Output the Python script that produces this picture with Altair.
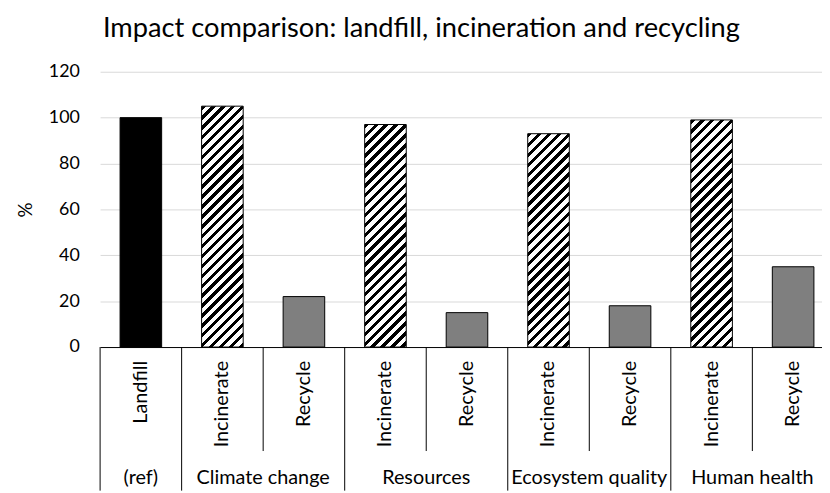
import altair as alt
import pandas as pd

categories = ["Landfill", "Incinerate", "Recycle", "Incinerate", "Recycle",
              "Incinerate", "Recycle", "Incinerate", "Recycle"]
groups = ["(ref)", "Climate change", "Climate change", "Resources", "Resources",
          "Ecosystem quality", "Ecosystem quality", "Human health", "Human health"]
values = [100, 105, 22, 97, 15, 93, 18, 99, 35]
y_ticks = [0, 20, 40, 60, 80, 100, 120]

W, H = 729, 278
XRANGE = 741
BOTTOM = 145
FONT = "Lato"
BAR = 0.51

n = len(categories)
df = pd.DataFrame({"cat": categories, "group": groups, "value": values})
df["i"] = range(n)
df["x0"] = df["i"] + (1 - BAR) / 2
df["x1"] = df["i"] + (1 + BAR) / 2
df["xc"] = df["i"] + 0.5

xscale = alt.Scale(domain=[0, n], range=[0, XRANGE], nice=False, zero=False)
yscale = alt.Scale(domain=[0, 120], nice=False)

x_axis = alt.Axis(labels=False, ticks=False, grid=False, title=None,
                  domainColor="black", domainWidth=1)
y_axis = alt.Axis(values=y_ticks, grid=True, gridColor="#d9d9d9", gridWidth=1,
                  ticks=False, domain=False, labelPadding=21,
                  labelFont=FONT, labelFontSize=18, labelColor="black",
                  title="%", titleFont=FONT, titleFontSize=19,
                  titleFontWeight="normal", titleColor="black",
                  titleX=-75, titleY=H / 2, titleAngle=270,
                  titleAlign="center", titleBaseline="middle")


def X(field):
    return alt.X(field, scale=xscale, axis=x_axis)


def Y(field):
    return alt.Y(field, scale=yscale, axis=y_axis)


solid = alt.Chart(df).transform_filter(alt.datum.cat != "Incinerate").mark_bar(
    stroke="black", strokeWidth=1
).encode(
    x=X("x0:Q"),
    x2="x1:Q",
    y=Y("value:Q"),
    y2=alt.datum(0),
    color=alt.Color("cat:N", scale=alt.Scale(domain=["Landfill", "Recycle"],
                                             range=["#000000", "#7f7f7f"]), legend=None),
)


def hatch(value):
    w = BAR * XRANGE / n
    h = value / 120 * H
    dx = w * (w + h) / (w * w + h * h)
    dy = h * (w + h) / (w * w + h * h)
    period = 10.0 / (w + h)
    stops = []
    k = 0
    while k * period < 1:
        a = k * period
        b = min(a + 0.45 * period, 1)
        c = min((k + 1) * period, 1)
        stops += [{"offset": a, "color": "black"}, {"offset": b, "color": "black"},
                  {"offset": b, "color": "white"}, {"offset": c, "color": "white"}]
        k += 1
    return {"gradient": "linear", "x1": 0, "y1": 0, "x2": dx, "y2": dy, "stops": stops}


hatched = []
for _, row in df[df["cat"] == "Incinerate"].iterrows():
    hatched.append(
        alt.Chart(df).transform_filter(alt.datum.i == int(row["i"])).mark_bar(
            fill=hatch(row["value"]), stroke="black", strokeWidth=1
        ).encode(
            x=X("x0:Q"),
            x2="x1:Q",
            y=Y("value:Q"),
            y2=alt.datum(0),
        )
    )

bounds = []
for k in range(n + 1):
    full = k == 0 or k == n or groups[k - 1] != groups[k]
    bounds.append({"pos": k, "full": full})
bdf = pd.DataFrame(bounds)

full_rules = alt.Chart(bdf).transform_filter(alt.datum.full).mark_rule(
    color="black", strokeWidth=1
).encode(x=X("pos:Q"), y=alt.value(H), y2=alt.value(H + BOTTOM))

part_rules = alt.Chart(bdf).transform_filter(~alt.datum.full).mark_rule(
    color="black", strokeWidth=1
).encode(x=X("pos:Q"), y=alt.value(H), y2=alt.value(H + 105))

cat_labels = alt.Chart(df).mark_text(
    angle=270, align="right", baseline="middle", font=FONT, fontSize=20, color="black"
).encode(x=X("xc:Q"), y=alt.value(H + 14), text="cat:N")

gdf = df.groupby("group", sort=False)["xc"].mean().reset_index()
group_labels = alt.Chart(gdf).mark_text(
    align="center", baseline="middle", font=FONT, fontSize=20, color="black"
).encode(x=X("xc:Q"), y=alt.value(H + 132), text="group:N")

chart = alt.layer(solid, *hatched, full_rules, part_rules, cat_labels, group_labels).properties(
    width=W, height=H,
    autosize=alt.AutoSizeParams(type="none"),
    padding={"left": 93, "top": 62, "right": 0, "bottom": BOTTOM},
    title=alt.TitleParams("Impact comparison: landfill, incineration and recycling",
                          font=FONT, fontSize=27.5, fontWeight="normal", color="black",
                          anchor="middle", dx=-40, offset=21),
).configure_view(stroke=None)

chart.save("out.html", embed_options={"renderer": "svg", "actions": False})
